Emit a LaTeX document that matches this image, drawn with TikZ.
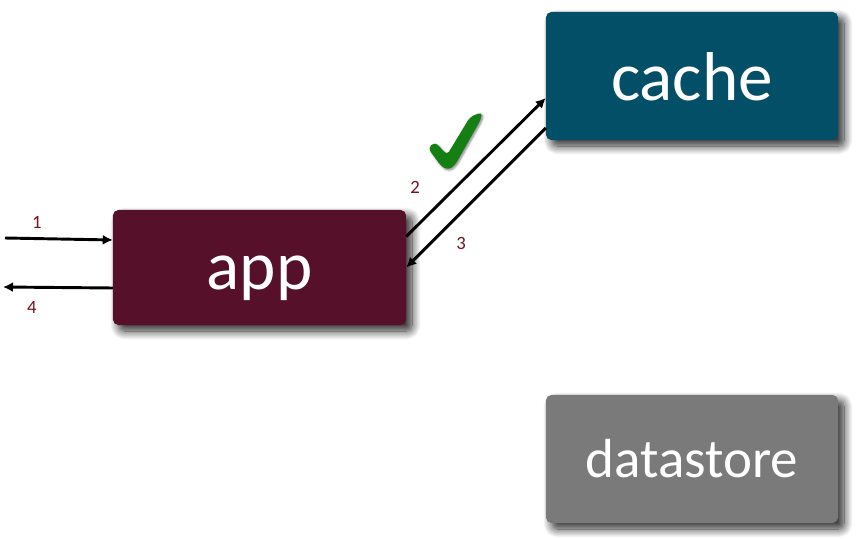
\documentclass[tikz,border=0pt]{standalone}
\usepackage{fontspec}
\setmainfont{Carlito}
\usetikzlibrary{arrows.meta,shadows.blur}
\definecolor{appred}{HTML}{561029}
\definecolor{cacheblue}{HTML}{034F67}
\definecolor{storegray}{HTML}{7A7A7A}
\definecolor{checkgreen}{HTML}{148014}
\definecolor{numred}{HTML}{7A0F1E}
\begin{document}
\begin{tikzpicture}[
    x=0.03cm, y=-0.03cm,
    block/.style={rectangle, rounded corners=1.6mm, text=white, inner sep=0pt, text depth=0pt, minimum width=8.76cm, minimum height=3.84cm,
        blur shadow={shadow xshift=1.8mm, shadow yshift=-1.8mm, shadow blur steps=12, shadow blur radius=2.6mm, shadow opacity=85}},
    arrow/.style={-{Latex[length=3mm,width=3mm]}, line width=2.5pt},
    num/.style={text=numred, font=\fontsize{16}{18}\selectfont}
]
\useasboundingbox (0,0) rectangle (858,539);

\node[block, fill=appred, minimum width=8.79cm, minimum height=3.45cm, text height=38pt, font=\fontsize{59}{66}\selectfont] (app) at (259.5,267.5) {app};
\node[block, fill=cacheblue, text height=41pt, font=\fontsize{59}{66}\selectfont] (cache) at (692,76) {cache};
\node[block, fill=storegray, text height=31pt, font=\fontsize{47}{54}\selectfont] (store) at (692,459) {datastore};

\coordinate (in) at (5,238);
\coordinate (out) at (3,287);

\draw[arrow] (in) -- ([yshift=-0.6mm]app.west |- in);
\draw[arrow] (app.west |- 0,288) -- (out);
\draw[arrow] ([yshift=9.3mm]app.east) -- ([yshift=-6.6mm]cache.west);
\draw[arrow] ([yshift=-15.6mm]cache.west) -- ([yshift=0mm]app.east);

\node[num] (n1) at (37,222) {1};
\node[num] (n2) at (415,187) {2};
\node[num] (n3) at (461,243) {3};
\node[num] (n4) at (32,307) {4};

\fill[checkgreen, rounded corners=1.2mm, blur shadow={shadow xshift=0.4mm, shadow yshift=-0.4mm, shadow blur steps=6, shadow blur radius=0.6mm, shadow opacity=50}]
    (428,148) -- (435,142) -- (447,155) -- (470,117) -- (482,112) -- (481,119) -- (455,165) -- (448,170) -- (441,166) -- cycle;
\end{tikzpicture}
\end{document}
